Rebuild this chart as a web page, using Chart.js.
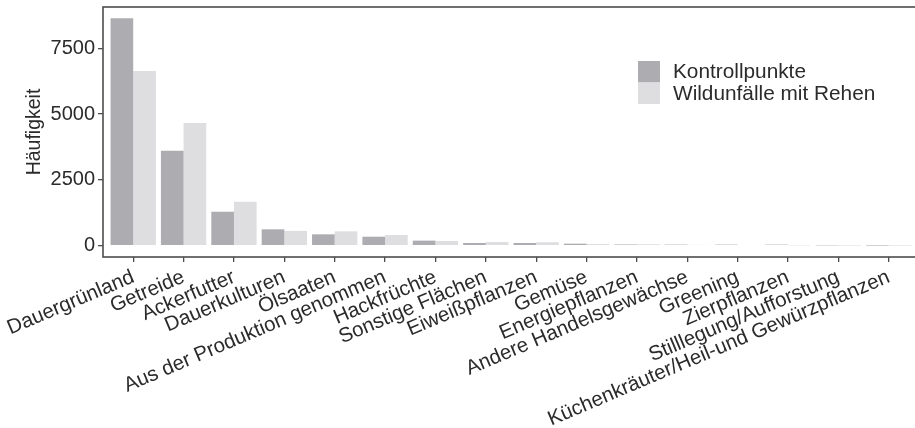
<!DOCTYPE html>
<html>
<head>
<meta charset="utf-8">
<script src="https://cdn.jsdelivr.net/npm/chart.js@4/dist/chart.umd.min.js"></script>
<style>
  html, body { margin: 0; padding: 0; background: #fff; overflow: hidden; width: 915px; height: 428px; }
  #wrap { position: relative; width: 925px; height: 428px; }
</style>
</head>
<body>
<div id="wrap"><canvas id="c" width="925" height="428"></canvas></div>
<script>
// Land-use categories (x axis)
const categories = [
  'Dauergrünland', 'Getreide', 'Ackerfutter', 'Dauerkulturen', 'Ölsaaten',
  'Aus der Produktion genommen', 'Hackfrüchte', 'Sonstige Flächen', 'Eiweißpflanzen',
  'Gemüse', 'Energiepflanzen', 'Andere Handelsgewächse', 'Greening', 'Zierpflanzen',
  'Stilllegung/Aufforstung', 'Küchenkräuter/Heil-und Gewürzpflanzen'
];

// Counts per category
const kontrollpunkte = [8640, 3610, 1290, 620, 430, 340, 190, 100, 100, 75, 45, 40, 40, 40, 10, 3];
const wildunfaelle   = [6640, 4660, 1670, 560, 545, 405, 178, 140, 130, 65, 55, 30, 25, 10, 3, 1];

// Series names and fills
const seriesNames  = ['Kontrollpunkte', 'Wildunfälle mit Rehen'];
const seriesColors = ['#adadb1', '#dedee1'];

// y-axis tick values
const yTicks = [0, 2500, 5000, 7500];

const FONT = 'Liberation Sans, Arial, Helvetica, sans-serif';
const TEXT = '#2b2b2b';
const LINE = '#4d4d4d';

// 5% headroom above and below the data, as in a ggplot panel
const dataMax = Math.max(...kontrollpunkte, ...wildunfaelle);
const yMax = dataMax * 1.05;
const yMin = -dataMax * 0.05;

// Panel frame
const framePlugin = {
  id: 'frame',
  afterDatasetsDraw(chart) {
    const { ctx, chartArea: a } = chart;
    ctx.save();
    ctx.strokeStyle = LINE;
    ctx.lineWidth = 1.6;
    ctx.strokeRect(a.left, a.top, a.right - a.left, a.bottom - a.top);
    ctx.restore();
  }
};

// Legend: stacked swatches with labels inside the panel
const legendPlugin = {
  id: 'boxLegend',
  afterDraw(chart) {
    const { ctx } = chart;
    const x = 638, y = 61, w = 22, h = 21.5, gap = 13;
    ctx.save();
    ctx.font = '20.8px ' + FONT;
    ctx.textBaseline = 'middle';
    ctx.textAlign = 'left';
    chart.data.datasets.forEach((ds, i) => {
      ctx.fillStyle = ds.backgroundColor;
      ctx.fillRect(x, y + i * h, w, h);
      ctx.fillStyle = TEXT;
      ctx.fillText(ds.label, x + w + gap, y + i * h + h / 2 + 1);
    });
    ctx.restore();
  }
};

new Chart(document.getElementById('c'), {
  type: 'bar',
  data: {
    labels: categories,
    datasets: [
      { label: seriesNames[0], data: kontrollpunkte, backgroundColor: seriesColors[0] },
      { label: seriesNames[1], data: wildunfaelle, backgroundColor: seriesColors[1] }
    ]
  },
  options: {
    responsive: false,
    animation: false,
    devicePixelRatio: 1,
    layout: { padding: { top: 7, right: 6, left: 0, bottom: 0 } },
    datasets: { bar: { categoryPercentage: 0.9, barPercentage: 1.0, borderWidth: 0 } },
    plugins: { legend: { display: false }, tooltip: { enabled: false } },
    scales: {
      x: {
        type: 'category',
        offset: true,
        grid: { display: true, drawOnChartArea: false, drawTicks: true, tickLength: 5, offset: false, color: LINE, lineWidth: 1.3 },
        border: { display: false },
        ticks: {
          autoSkip: false, minRotation: 23, maxRotation: 23, padding: 3,
          color: TEXT, font: { family: FONT, size: 20.5 }
        },
        // discrete axis expanded by 0.6 of a category on each side
        afterBuildTicks(scale) {
          scale._startValue = -0.6;
          scale._valueRange = categories.length - 1 + 1.2;
        },
        afterFit(scale) {
          scale.height = 171;
          scale.paddingLeft = 0;
          scale.paddingRight = 0;
        }
      },
      y: {
        type: 'linear',
        min: yMin,
        max: yMax,
        grid: { display: true, drawOnChartArea: false, drawTicks: true, tickLength: 5, color: LINE, lineWidth: 1.3 },
        border: { display: false },
        ticks: {
          padding: 3, color: TEXT, font: { family: FONT, size: 20 },
          callback: (v) => String(v)
        },
        title: {
          display: true, text: 'Häufigkeit', color: TEXT,
          font: { family: FONT, size: 19.5 }, padding: { top: 23, bottom: 0 }
        },
        afterBuildTicks(scale) {
          scale.ticks = yTicks.map(v => ({ value: v }));
        },
        afterFit(scale) {
          scale.width = 103;
          scale.paddingTop = 0;
          scale.paddingBottom = 0;
        }
      }
    }
  },
  plugins: [framePlugin, legendPlugin]
});
</script>
</body>
</html>
